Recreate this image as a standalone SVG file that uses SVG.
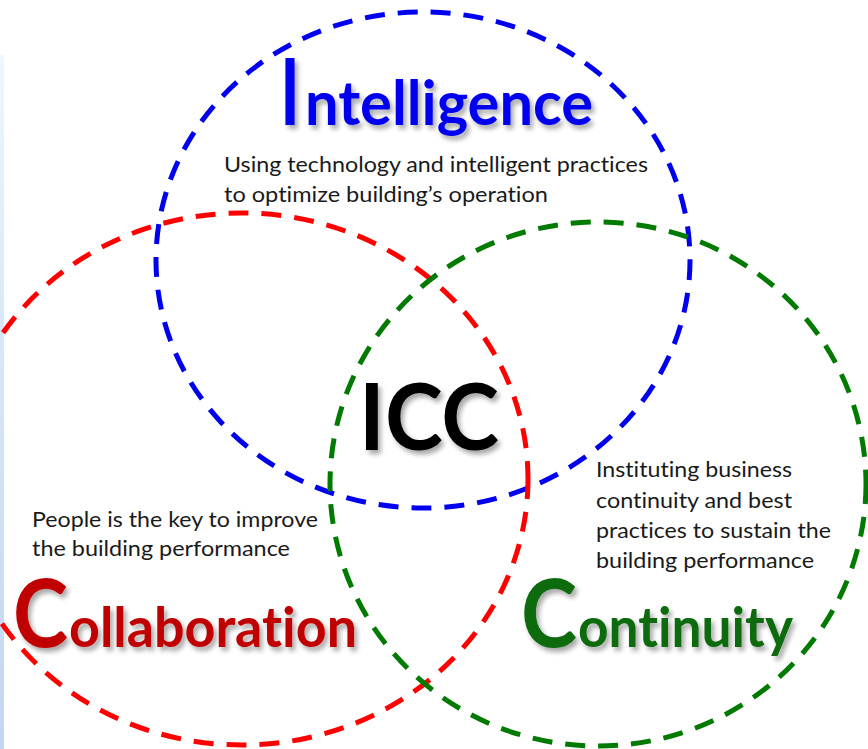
<svg xmlns="http://www.w3.org/2000/svg" width="868" height="749" viewBox="0 0 868 749">
<defs>
<linearGradient id="strip" x1="0" y1="0" x2="0" y2="1">
<stop offset="0" stop-color="#eef7fd"/>
<stop offset="0.4" stop-color="#d6e8f8"/>
<stop offset="1" stop-color="#c4d6f0"/>
</linearGradient>
<filter id="sh" x="-10%" y="-20%" width="130%" height="150%">
<feGaussianBlur in="SourceAlpha" stdDeviation="2.5"/>
<feOffset dx="3" dy="4" result="b"/>
<feComponentTransfer><feFuncA type="linear" slope="0.35"/></feComponentTransfer>
<feMerge><feMergeNode/><feMergeNode in="SourceGraphic"/></feMerge>
</filter>
</defs>
<style>
.ring{fill:none;stroke-width:5;stroke-dasharray:20 13}
text{font-variant-ligatures:none}
.desc{font-family:Lato,"Open Sans","Liberation Sans",sans-serif;font-size:21px;fill:#1a1a1a}
.big{font-family:Lato,"Open Sans","Liberation Sans",sans-serif;font-weight:bold}
</style>
<rect width="868" height="749" fill="#ffffff"/>
<rect x="0" y="55" width="4" height="694" fill="url(#strip)"/>
<g id="connectors">
<ellipse id="ring-intelligence" class="ring" cx="423" cy="260" rx="267" ry="248" stroke="#0000ee"/>
<ellipse id="ring-collaboration" class="ring" cx="242" cy="479" rx="286" ry="266" stroke="#ff0000"/>
<ellipse id="ring-continuity" class="ring" cx="598" cy="484" rx="268" ry="262" stroke="#007a00"/>
</g>
<g id="intelligence">
<text class="big" y="125" fill="#0000ee" filter="url(#sh)"><tspan x="280" font-size="92" textLength="20" lengthAdjust="spacingAndGlyphs">I</tspan><tspan x="305" font-size="62" textLength="288" lengthAdjust="spacingAndGlyphs">ntelligence</tspan></text>
<text class="desc" x="224" y="172" textLength="424" lengthAdjust="spacingAndGlyphs">Using technology and intelligent practices</text>
<text class="desc" x="224" y="202" textLength="324" lengthAdjust="spacingAndGlyphs">to optimize building’s operation</text>
</g>
<g id="icc">
<text class="big" x="359" y="450" font-size="92" fill="#000000" filter="url(#sh)" textLength="140" lengthAdjust="spacingAndGlyphs">ICC</text>
</g>
<g id="collaboration">
<text class="desc" x="32" y="527" textLength="286" lengthAdjust="spacingAndGlyphs">People is the key to improve</text>
<text class="desc" x="32" y="556" textLength="258" lengthAdjust="spacingAndGlyphs">the building performance</text>
<text class="big" y="647" fill="#c00000" filter="url(#sh)"><tspan x="13" font-size="93" textLength="55" lengthAdjust="spacingAndGlyphs">C</tspan><tspan x="69" font-size="56" textLength="288" lengthAdjust="spacingAndGlyphs">ollaboration</tspan></text>
</g>
<g id="continuity">
<text class="desc" x="596" y="477" textLength="196" lengthAdjust="spacingAndGlyphs">Instituting business</text>
<text class="desc" x="596" y="508" textLength="196" lengthAdjust="spacingAndGlyphs">continuity and best</text>
<text class="desc" x="596" y="538" textLength="235" lengthAdjust="spacingAndGlyphs">practices to sustain the</text>
<text class="desc" x="596" y="568" textLength="218" lengthAdjust="spacingAndGlyphs">building performance</text>
<text class="big" y="647" fill="#0f6b0f" filter="url(#sh)"><tspan x="521" font-size="93" textLength="56" lengthAdjust="spacingAndGlyphs">C</tspan><tspan x="578" font-size="56" textLength="215" lengthAdjust="spacingAndGlyphs">ontinuity</tspan></text>
</g>
</svg>
